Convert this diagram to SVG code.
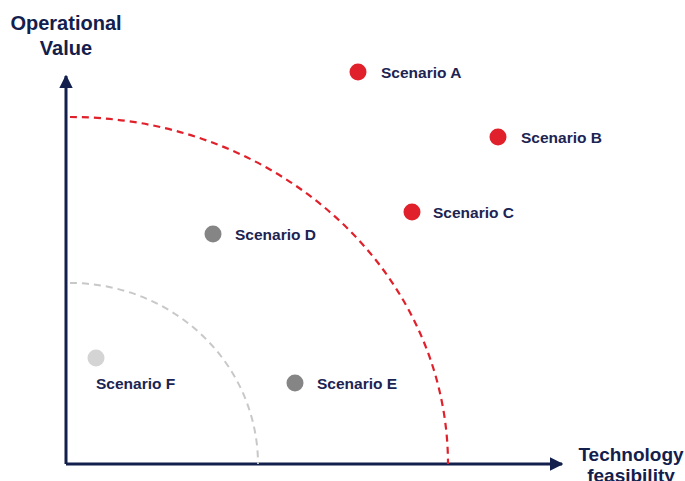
<svg xmlns="http://www.w3.org/2000/svg" width="685" height="481" viewBox="0 0 685 481">
<style>
.lbl{font-family:"Liberation Sans",Arial,sans-serif;font-weight:bold;font-size:15.5px;fill:#1b2452}
.ax{font-family:"Liberation Sans",Arial,sans-serif;font-weight:bold;font-size:20px;fill:#13204d;text-anchor:middle}
.axs{font-size:19px}
.axis{stroke:#13204d;stroke-width:3;fill:none}
</style>
<defs>
<marker id="arr" viewBox="0 0 10 10" refX="9" refY="5" markerWidth="4.5" markerHeight="4.5" orient="auto" markerUnits="strokeWidth">
<path d="M0,0 L10,5 L0,10 z" fill="#13204d"/>
</marker>
</defs>
<rect width="685" height="481" fill="#ffffff"/>
<g id="connectors">
<path class="axis" d="M66,464 V76" marker-end="url(#arr)"/>
<path class="axis" d="M66,464 H562" marker-end="url(#arr)"/>
<path d="M70,117 A378,347 0 0 1 448,464" fill="none" stroke="#e0202a" stroke-width="2.2" stroke-dasharray="7,5"/>
<path d="M70,283 A188,181 0 0 1 258,464" fill="none" stroke="#c8c8c8" stroke-width="2" stroke-dasharray="7,5"/>
</g>
<g id="ylabel"><text class="ax" x="66" y="30">Operational</text><text class="ax" x="66" y="55">Value</text></g>
<g id="xlabel"><text class="ax axs" x="631" y="461">Technology</text><text class="ax axs" x="631" y="482">feasibility</text></g>
<g id="scenA"><circle cx="358" cy="72" r="8.5" fill="#e0202a"/><text class="lbl" x="381" y="78">Scenario A</text></g>
<g id="scenB"><circle cx="498" cy="137" r="8.5" fill="#e0202a"/><text class="lbl" x="521" y="143">Scenario B</text></g>
<g id="scenC"><circle cx="412" cy="212" r="8.5" fill="#e0202a"/><text class="lbl" x="433" y="218">Scenario C</text></g>
<g id="scenD"><circle cx="213" cy="234" r="8.5" fill="#858585"/><text class="lbl" x="235" y="240">Scenario D</text></g>
<g id="scenE"><circle cx="295" cy="383" r="8.5" fill="#858585"/><text class="lbl" x="317" y="389">Scenario E</text></g>
<g id="scenF"><circle cx="96" cy="358" r="8.5" fill="#d4d4d4"/><text class="lbl" x="96" y="389">Scenario F</text></g>
</svg>
